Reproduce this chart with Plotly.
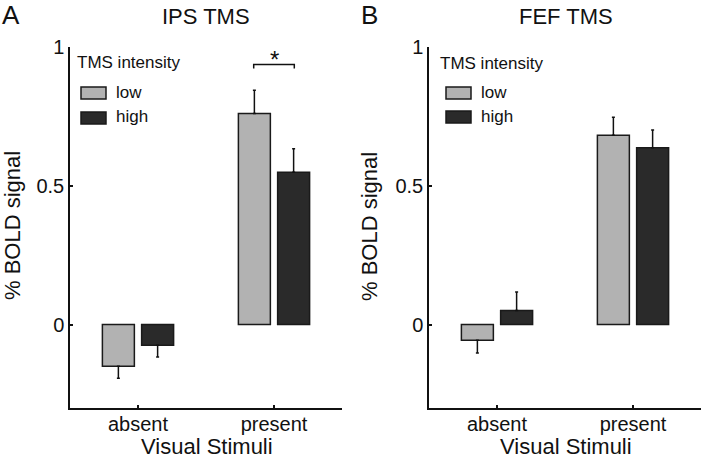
import plotly.graph_objects as go

categories = ["absent", "present"]
series_names = ["low", "high"]

ips_low = [-0.150, 0.759]
ips_low_err = [0.043, 0.084]
ips_high = [-0.074, 0.548]
ips_high_err = [0.043, 0.084]

fef_low = [-0.056, 0.681]
fef_low_err = [0.046, 0.065]
fef_high = [0.051, 0.636]
fef_high_err = [0.066, 0.064]

panel_titles = ["IPS TMS", "FEF TMS"]
panel_letters = ["A", "B"]
y_tickvals = [0, 0.5, 1]
y_ticktext = ["0", "0.5", "1"]

W, H = 701, 459
FONT = "Liberation Sans, Arial, Helvetica, sans-serif"
LIGHT = "#b2b2b2"
DARK = "#2a2a2a"
EDGE = "#1a1a1a"


def px(x):
    return x / W


def py(y):
    return 1 - y / H


def one_sided(vals, errs):
    up = [e if v >= 0 else 0 for v, e in zip(vals, errs)]
    down = [e if v < 0 else 0 for v, e in zip(vals, errs)]
    return up, down


fig = go.Figure()

panels = [
    (ips_low, ips_low_err, ips_high, ips_high_err, "x", "y"),
    (fef_low, fef_low_err, fef_high, fef_high_err, "x2", "y2"),
]

for low, low_err, high, high_err, xa, ya in panels:
    for vals, errs, color, name in [(low, low_err, LIGHT, series_names[0]),
                                    (high, high_err, DARK, series_names[1])]:
        up, down = one_sided(vals, errs)
        fig.add_trace(go.Bar(
            x=categories, y=vals, name=name, xaxis=xa, yaxis=ya,
            marker=dict(color=color, line=dict(color=EDGE, width=1.5)),
            error_y=dict(type="data", array=up, arrayminus=down, symmetric=False,
                         color="#111", thickness=1.5, width=1.5),
            showlegend=False,
        ))

ydom = [py(408), py(46.5)]
axis_common = dict(showline=True, linecolor="#111", linewidth=1.5, ticks="inside",
                   ticklen=3, tickwidth=1.5, tickcolor="#111", showgrid=False,
                   zeroline=False, automargin=False,
                   tickfont=dict(family=FONT, size=20, color="#111"))

fig.update_layout(
    template="none",
    width=W, height=H, autosize=False,
    margin=dict(l=0, r=0, t=0, b=0, pad=0),
    paper_bgcolor="white", plot_bgcolor="white",
    barmode="group", bargap=0.423, bargroupgap=0.185,
    xaxis=dict(domain=[px(70), px(342)], range=[-0.5, 1.5], anchor="y",
               ticklabelstandoff=-3, **axis_common),
    yaxis=dict(domain=ydom, range=[-0.3, 1.0], anchor="x", tickvals=y_tickvals,
               ticktext=y_ticktext, **axis_common),
    xaxis2=dict(domain=[px(429), px(701)], range=[-0.5, 1.5], anchor="y2",
                ticklabelstandoff=-3, **axis_common),
    yaxis2=dict(domain=ydom, range=[-0.3, 1.0], anchor="x2", tickvals=y_tickvals,
                ticktext=y_ticktext, **axis_common),
    font=dict(family=FONT, color="#111"),
)

ann = []
shapes = []
# titles and letters
for title, cx in zip(panel_titles, [206, 566]):
    ann.append(dict(text=title, x=px(cx), y=py(16), xref="paper", yref="paper",
                    showarrow=False, font=dict(size=22, family=FONT), xanchor="center", yanchor="middle"))
for letter, lx in zip(panel_letters, [0, 359]):
    ann.append(dict(text=letter, x=px(lx), y=py(15), xref="paper", yref="paper",
                    showarrow=False, font=dict(size=26, family=FONT), xanchor="left", yanchor="middle"))
# axis titles
for cx in [207, 566]:
    ann.append(dict(text="Visual Stimuli", x=px(cx), y=py(446), xref="paper", yref="paper",
                    showarrow=False, font=dict(size=22, family=FONT), xanchor="center", yanchor="middle"))
for lx in [13, 370]:
    ann.append(dict(text="% BOLD signal", x=px(lx), y=py(226), xref="paper", yref="paper",
                    showarrow=False, textangle=-90, font=dict(size=22, family=FONT),
                    xanchor="center", yanchor="middle"))

# custom legends
legend_pos = [
    dict(tx=75, ty=63, bx0=81, bx1=106, by=[(87, 99), (112, 124)], lx=114),
    dict(tx=438, ty=64, bx0=446, bx1=471, by=[(87, 99), (111, 123)], lx=479),
]
for lp in legend_pos:
    ann.append(dict(text="TMS intensity", x=px(lp["tx"]), y=py(lp["ty"]), xref="paper", yref="paper",
                    showarrow=False, font=dict(size=17, family=FONT), xanchor="left", yanchor="middle"))
    for (y0, y1), color, name in zip(lp["by"], [LIGHT, DARK], series_names):
        shapes.append(dict(type="rect", xref="paper", yref="paper",
                           x0=px(lp["bx0"]), x1=px(lp["bx1"]), y0=py(y1), y1=py(y0),
                           fillcolor=color, line=dict(color=EDGE, width=1.5)))
        ann.append(dict(text=name, x=px(lp["lx"]), y=py((y0 + y1) / 2 - 1), xref="paper", yref="paper",
                        showarrow=False, font=dict(size=17, family=FONT), xanchor="left", yanchor="middle"))

# significance bracket over IPS present bars
off = (1 - 0.423) / 4
xc = 1
yb, yt = 0.921, 0.935
shapes.append(dict(type="path", xref="x", yref="y",
                   path=f"M {xc - off - 0.005},{yb} L {xc - off - 0.005},{yt} L {xc + off + 0.005},{yt} L {xc + off + 0.005},{yb}",
                   line=dict(color="#111", width=1.5)))
ann.append(dict(text="*", x=xc, y=0.955, xref="x", yref="y", showarrow=False,
                font=dict(size=24, family=FONT), xanchor="center", yanchor="middle"))

fig.update_layout(annotations=ann, shapes=shapes)

fig.write_html("out.html", config={"displayModeBar": False},
               post_script="document.body.style.margin='0px';document.body.style.overflow='hidden';")
